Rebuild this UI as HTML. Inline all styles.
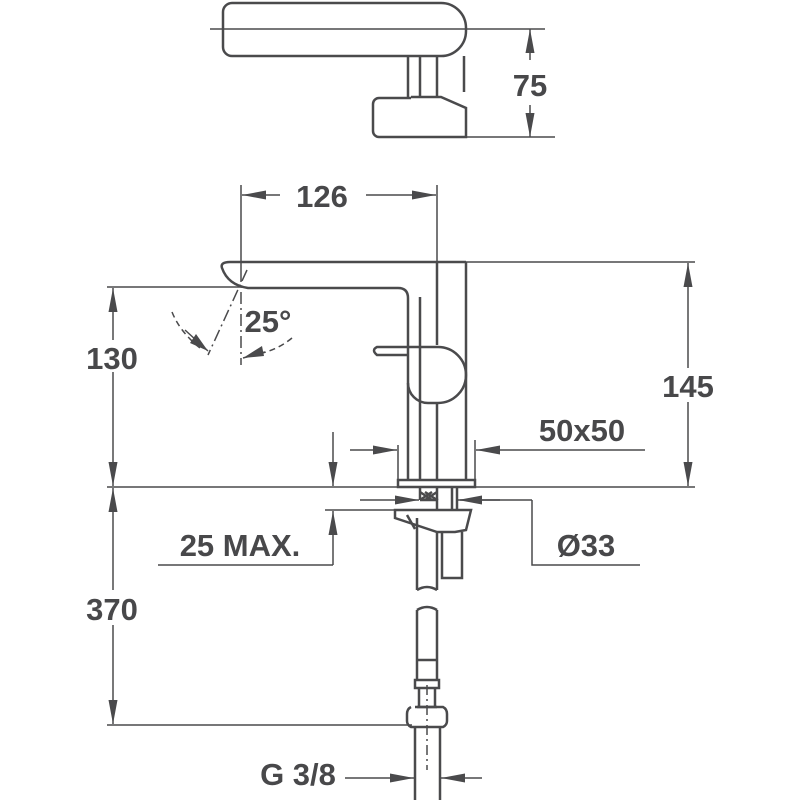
<!DOCTYPE html>
<html><head><meta charset="utf-8"><style>
html,body{margin:0;padding:0;background:#fff;}
svg{display:block;}
text{font-family:"Liberation Sans",sans-serif;font-weight:bold;font-size:31px;fill:#48484a;text-anchor:middle;}
</style></head><body>
<svg width="799" height="800" viewBox="0 0 799 800" xmlns="http://www.w3.org/2000/svg">
<defs>
<marker id="a" viewBox="0 0 10 10" refX="10" refY="5" markerWidth="24" markerHeight="9" markerUnits="userSpaceOnUse" orient="auto" preserveAspectRatio="none"><path d="M0,0 L10,5 L0,10 z" fill="#4a4a4c"/></marker>
</defs>
<g stroke="#4a4a4c" fill="none" stroke-width="2.5">
<path d="M232,3 H440 A25,25 0 0 1 466,28 V31 A25,25 0 0 1 440,56 H232 A9,9 0 0 1 223,47 V12 A9,9 0 0 1 232,3 Z"/>
<path d="M408,56 V97 M420,56 V97 M437,56 V97 M464,56 V92"/>
<path d="M411,97 H441 L466,108 V137 H379 A6,6 0 0 1 373,131 V104 A6,6 0 0 1 379,98 H411"/>
</g>
<g stroke="#4a4a4c" fill="none" stroke-width="1.5">
<path d="M210,29 H545 M466,137 H555"/>
<line x1="530" y1="60" x2="530" y2="29" marker-end="url(#a)"/>
<line x1="530" y1="105" x2="530" y2="137" marker-end="url(#a)"/>
</g>
<text x="530" y="96">75</text>

<g stroke="#4a4a4c" fill="none" stroke-width="2.5">
<path d="M466,262 H230 Q220,262 222,268 Q228,285 248,288 H398 Q408,288 408,298 V480"/>
<path d="M466,262 V480"/>
<path d="M420,297 V480"/>
<path d="M437,262 V345"/><path d="M437,403 V480"/>
<path d="M408,347 H377 Q371,350 377,355 H408"/>
<path d="M408,347 H438 A28,28 0 0 1 438,403 H428 A20,20 0 0 1 408,383"/>
<path d="M398,480 H475 V487 H398 Z"/>
<path d="M420,487 V500 M437,487 V500 M452,487 V510 M457,487 V510"/>
<path d="M420,492 L432,500 M432,492 L420,500 M425,492 L437,500 M437,492 L425,500"/>
<path d="M420,500 H437 V510"/>
<path d="M395,510 H471 L466,530 L455,532 L437,532 L395,518 Z"/>
<path d="M417,518 V590 M437,532 V590 M442,532 V578 H462 V532 M407,515 L415,529"/>
<path d="M417,590 Q427,584 437,590"/>
<path d="M417,610 Q427,604 437,610"/>
<path d="M417,610 V680 M437,610 V680 M417,660 H437"/>
<path d="M415,680 H439 V688 H415 Z M419,688 V707 M435,688 V707 M417,707 H437"/>
<path d="M415,707 H443 Q447,709 447,714 V721 Q447,725 443,727 H411 Q407,725 407,721 V714 Q407,709 411,707"/>
<path d="M415,727 V800 M440,727 V800"/>
</g>
<path d="M427,685 V770" stroke="#4a4a4c" stroke-width="1.5" stroke-dasharray="10,4,2,4" fill="none"/>
<g stroke="#4a4a4c" fill="none" stroke-width="1.5" stroke-dasharray="12,4,2,4">
<path d="M241,270 V365"/><path d="M247,270 L208,355"/>
</g>
<g stroke="#4a4a4c" fill="none" stroke-width="1.5">
<path d="M172,312 Q180,332 200,348" stroke-dasharray="6,4"/>
<path d="M292,338 Q275,352 252,355" stroke-dasharray="6,4"/>
<path d="M185,330 L208,351"/><path d="M265,352 L243,358"/>
</g>
<path d="M208,351 L190,343 L196,334 Z M243,358 L262,346 L264,356 Z" fill="#4a4a4c"/>
<text x="268" y="332">25°</text>

<g stroke="#4a4a4c" fill="none" stroke-width="1.5">
<path d="M241,185 V270 M437,185 V262"/>
<line x1="280" y1="195" x2="242" y2="195" marker-end="url(#a)"/>
<line x1="366" y1="195" x2="436" y2="195" marker-end="url(#a)"/>
<path d="M107,287 H240 M107,487 H695 M466,262 H695 M107,725 H412"/>
<line x1="113" y1="340" x2="113" y2="288" marker-end="url(#a)"/>
<line x1="113" y1="372" x2="113" y2="486" marker-end="url(#a)"/>
<line x1="113" y1="590" x2="113" y2="488" marker-end="url(#a)"/>
<line x1="113" y1="625" x2="113" y2="724" marker-end="url(#a)"/>
<line x1="688" y1="368" x2="688" y2="263" marker-end="url(#a)"/>
<line x1="688" y1="402" x2="688" y2="486" marker-end="url(#a)"/>
<path d="M398,445 V480 M475,440 V480"/>
<line x1="350" y1="450" x2="397" y2="450" marker-end="url(#a)"/>
<line x1="645" y1="450" x2="476" y2="450" marker-end="url(#a)"/>
<line x1="333" y1="432" x2="333" y2="486" marker-end="url(#a)"/>
<line x1="333" y1="565" x2="333" y2="511" marker-end="url(#a)"/>
<path d="M325,510 H395 M158,565 H333"/>
<line x1="360" y1="500" x2="419" y2="500" marker-end="url(#a)"/>
<path d="M532,500 H460"/>
<line x1="500" y1="500" x2="458" y2="500" marker-end="url(#a)"/>
<path d="M532,500 V565 H640"/>
<line x1="345" y1="778" x2="414" y2="778" marker-end="url(#a)"/>
<line x1="482" y1="778" x2="441" y2="778" marker-end="url(#a)"/>
</g>
<text x="322" y="207">126</text>
<text x="112" y="369">130</text>
<text x="688" y="397">145</text>
<text x="582" y="441">50x50</text>
<text x="240" y="556">25 MAX.</text>
<text x="586" y="556">Ø33</text>
<text x="112" y="620">370</text>
<text x="298" y="785">G 3/8</text>
</svg>
</body></html>
